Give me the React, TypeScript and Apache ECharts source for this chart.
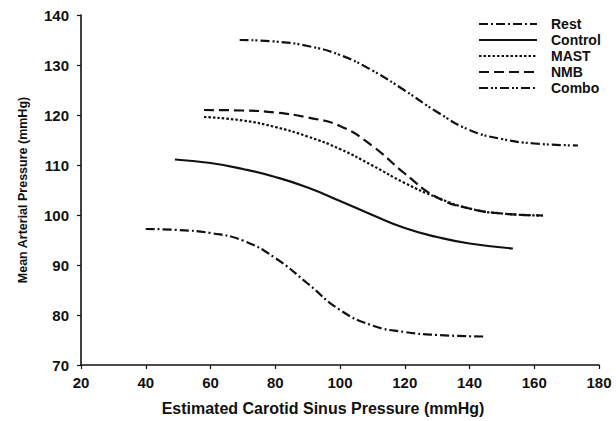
import React, { useEffect, useRef } from "react";
import * as echarts from "echarts";

const seriesNames = ["Rest", "Control", "MAST", "NMB", "Combo"];

const restX = [40, 50, 60, 70, 80, 90, 100, 110, 120, 130, 144.7];
const restY = [97.2, 97.0, 96.4, 94.9, 91.4, 86.3, 81.0, 77.9, 76.6, 76.0, 75.7];

const controlX = [49, 60, 70, 80, 90, 100, 110, 120, 130, 140, 153.4];
const controlY = [111.1, 110.4, 109.2, 107.6, 105.5, 102.8, 100.0, 97.4, 95.6, 94.3, 93.3];

const mastX = [58, 70, 80, 90, 100, 110, 120, 130, 140, 150, 162.7];
const mastY = [119.6, 118.9, 117.6, 115.7, 113.2, 109.9, 106.4, 103.5, 101.3, 100.3, 99.9];

const nmbX = [58, 70, 80, 90, 100, 110, 120, 130, 140, 150, 162.7];
const nmbY = [121.0, 120.9, 120.5, 119.5, 117.8, 113.8, 108.3, 103.5, 101.3, 100.3, 99.9];

const comboX = [69, 80, 90, 100, 110, 120, 130, 140, 150, 160, 173.5];
const comboY = [135.0, 134.7, 133.8, 132.0, 128.9, 124.9, 120.6, 117.0, 115.2, 114.3, 113.9];

const dashes: (number[] | "solid")[] = [
  [9, 3, 2, 3],
  "solid",
  [2.5, 2],
  [10, 5],
  [9, 3, 2, 2, 2, 3],
];

const pair = (xs: number[], ys: number[]) => xs.map((x, i) => [x, ys[i]]);
const allData = [
  pair(restX, restY),
  pair(controlX, controlY),
  pair(mastX, mastY),
  pair(nmbX, nmbY),
  pair(comboX, comboY),
];

export default function App() {
  const ref = useRef<HTMLDivElement>(null);
  useEffect(() => {
    if (!ref.current) return;
    const chart = echarts.init(ref.current, null, { renderer: "svg" });
    const font = "Liberation Sans, Arial, sans-serif";
    const ink = "#111";
    chart.setOption({
      animation: false,
      backgroundColor: "#fff",
      grid: { left: 81, right: 17, top: 15, bottom: 55 },
      legend: {
        orient: "vertical",
        left: 473,
        top: 12,
        itemWidth: 58,
        itemHeight: 12,
        itemGap: 2,
        itemStyle: { color: "rgba(0,0,0,0)", borderWidth: 0, opacity: 0 },
        textStyle: {
          fontFamily: font,
          fontWeight: "bold",
          fontSize: 14,
          lineHeight: 14,
          color: ink,
          padding: [0, 0, 0, 9],
        },
        data: seriesNames,
      },
      xAxis: {
        type: "value",
        min: 20,
        max: 180,
        interval: 20,
        name: "Estimated Carotid Sinus Pressure (mmHg)",
        nameLocation: "middle",
        nameGap: 35,
        nameTextStyle: {
          fontFamily: font,
          fontWeight: "bold",
          fontSize: 16,
          color: ink,
          padding: [0, 34, 0, 0],
        },
        axisLine: { lineStyle: { color: ink, width: 1.6 } },
        axisTick: { show: true, length: 4, lineStyle: { color: ink, width: 1.2 } },
        axisLabel: { fontFamily: font, fontWeight: "bold", fontSize: 15, color: ink, margin: 10 },
        splitLine: { show: false },
      },
      yAxis: {
        type: "value",
        min: 70,
        max: 140,
        interval: 10,
        name: "Mean Arterial Pressure (mmHg)",
        nameLocation: "middle",
        nameGap: 52,
        nameTextStyle: { fontFamily: font, fontWeight: "bold", fontSize: 12.5, color: ink },
        axisLine: { show: true, lineStyle: { color: ink, width: 1.6 } },
        axisTick: { show: true, length: 4, lineStyle: { color: ink, width: 1.2 } },
        axisLabel: { fontFamily: font, fontWeight: "bold", fontSize: 15, color: ink, margin: 12 },
        splitLine: { show: false },
      },
      series: seriesNames.map((name, i) => ({
        name,
        type: "line",
        smooth: 0.5,
        symbol: "none",
        data: allData[i],
        lineStyle: { color: ink, width: 2.2, type: dashes[i] },
        itemStyle: { color: ink },
      })),
    });
    return () => chart.dispose();
  }, []);
  return (
    <div
      ref={ref}
      style={{ position: "absolute", left: 0, top: 0, width: 616, height: 421 }}
    />
  );
}
